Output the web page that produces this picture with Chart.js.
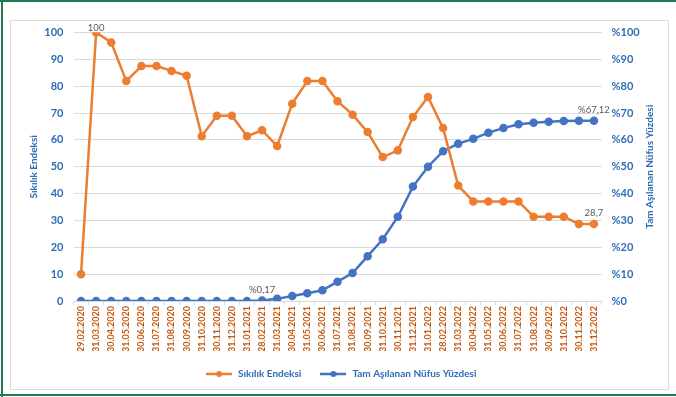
<!DOCTYPE html>
<html>
<head>
<meta charset="utf-8">
<script src="https://cdn.jsdelivr.net/npm/chart.js@4.4.1/dist/chart.umd.min.js"></script>
<style>
  body { margin: 0; background: #fff; }
  canvas { display: block; }
</style>
</head>
<body>
<canvas id="grafik" width="676" height="397"></canvas>
<script>
// ay sonu tarihleri
const tarihler = [
  "29.02.2020", "31.03.2020", "30.04.2020", "31.05.2020", "30.06.2020", "31.07.2020",
  "31.08.2020", "30.09.2020", "31.10.2020", "30.11.2020", "31.12.2020",
  "31.01.2021", "28.02.2021", "31.03.2021", "30.04.2021", "31.05.2021", "30.06.2021",
  "31.07.2021", "31.08.2021", "30.09.2021", "31.10.2021", "30.11.2021", "31.12.2021",
  "31.01.2022", "28.02.2022", "31.03.2022", "30.04.2022", "31.05.2022", "30.06.2022",
  "31.07.2022", "31.08.2022", "30.09.2022", "31.10.2022", "30.11.2022", "31.12.2022"
];

// sıkılık endeksi (0-100)
const sikilikEndeksi = [
  10, 100, 96.3, 81.9, 87.5, 87.5, 85.7, 83.9, 61.4, 69, 69,
  61.4, 63.6, 57.7, 73.5, 81.9, 81.9, 74.4, 69.4, 62.9, 53.6, 56.1, 68.5,
  76, 64.4, 43, 37.1, 37.1, 37.1, 37.1, 31.4, 31.4, 31.4, 28.7, 28.7
];

// tam aşılanan nüfus yüzdesi
const asilananYuzde = [
  0, 0, 0, 0, 0, 0, 0, 0, 0, 0, 0,
  0.02, 0.17, 0.8, 1.9, 2.9, 4.0, 7.2, 10.4, 16.7, 23, 31.4, 42.6,
  50, 55.8, 58.6, 60.4, 62.7, 64.4, 65.8, 66.4, 66.8, 67, 67.1, 67.12
];

const eksenTikleri = [0, 10, 20, 30, 40, 50, 60, 70, 80, 90, 100];

// hangi noktaların üstüne değer yazılacak: [seri, sıra, önek]
const degerEtiketleri = [
  [0, 1, ""],
  [1, 12, "%"],
  [1, 34, "%"],
  [0, 34, ""]
];

const turuncu = "#ed7d31";
const mavi = "#4472c4";
const yaziMavi = "#2e6db4";
const yaziTuruncu = "#c55a11";
const yaziFont = "Lato, 'Noto Sans', sans-serif";

// lejant için çizgi + nokta işareti
const lejantIsareti = (renk) => {
  const c = document.createElement("canvas");
  c.width = 26;
  c.height = 8;
  const x = c.getContext("2d");
  x.strokeStyle = renk;
  x.lineWidth = 2.5;
  x.beginPath();
  x.moveTo(0, 4);
  x.lineTo(26, 4);
  x.stroke();
  x.fillStyle = renk;
  x.beginPath();
  x.arc(13, 4, 3, 0, Math.PI * 2);
  x.fill();
  return c;
};

const sayiYaz = (v) => String(v).replace(".", ",");

// arka plan ve çerçeveler
const cerceve = {
  id: "cerceve",
  beforeDraw(chart) {
    const ctx = chart.ctx;
    ctx.save();
    ctx.fillStyle = "#fff";
    ctx.fillRect(0, 0, chart.width, chart.height);
    ctx.strokeStyle = "#dcdcdc";
    ctx.lineWidth = 1;
    ctx.strokeRect(10.5, 20.5, 658, 369);
    ctx.strokeStyle = "#1f7a4d";
    ctx.lineWidth = 2;
    ctx.beginPath();
    ctx.moveTo(0, 1);
    ctx.lineTo(chart.width, 1);
    ctx.moveTo(2, 0);
    ctx.lineTo(2, chart.height);
    ctx.moveTo(0, 395);
    ctx.lineTo(chart.width, 395);
    ctx.stroke();
    ctx.restore();
  }
};

// nokta değer etiketleri
const degerYazisi = {
  id: "degerYazisi",
  afterDatasetsDraw(chart) {
    const ctx = chart.ctx;
    ctx.save();
    ctx.font = "9.5px " + yaziFont;
    ctx.fillStyle = "#595959";
    ctx.textAlign = "center";
    ctx.textBaseline = "bottom";
    degerEtiketleri.forEach(([seri, sira, onek]) => {
      const nokta = chart.getDatasetMeta(seri).data[sira];
      const deger = chart.data.datasets[seri].data[sira];
      const ust = sira === 1 && seri === 0 ? 0 : 6;
      ctx.fillText(onek + sayiYaz(deger), nokta.x, nokta.y - ust);
    });
    ctx.restore();
  }
};

// sağ eksen başlığı (aşağıdan yukarı okunur)
const sagBaslik = {
  id: "sagBaslik",
  afterDraw(chart) {
    const ctx = chart.ctx;
    const alan = chart.chartArea;
    ctx.save();
    ctx.translate(650, (alan.top + alan.bottom) / 2);
    ctx.rotate(-Math.PI / 2);
    ctx.font = "bold 10px " + yaziFont;
    ctx.fillStyle = yaziMavi;
    ctx.textAlign = "center";
    ctx.textBaseline = "middle";
    ctx.fillText("Tam Aşılanan Nüfus Yüzdesi", 0, 0);
    ctx.restore();
  }
};

const grafik = new Chart(document.getElementById("grafik"), {
  type: "line",
  data: {
    labels: tarihler,
    datasets: [
      {
        label: "Sıkılık Endeksi",
        data: sikilikEndeksi,
        borderColor: turuncu,
        backgroundColor: turuncu,
        borderWidth: 2.5,
        pointRadius: 3,
        pointStyle: "circle",
        yAxisID: "y"
      },
      {
        label: "Tam Aşılanan Nüfus Yüzdesi",
        data: asilananYuzde,
        borderColor: mavi,
        backgroundColor: mavi,
        borderWidth: 2.5,
        pointRadius: 3,
        yAxisID: "y1"
      }
    ]
  },
  options: {
    responsive: false,
    animation: false,
    layout: { padding: { left: 20, right: 14.5, top: 32.5, bottom: 8 } },
    plugins: {
      tooltip: { enabled: false },
      legend: {
        position: "bottom",
        labels: {
          usePointStyle: true,
          pointStyleWidth: 28,
          padding: 18,
          color: yaziMavi,
          font: { family: yaziFont, size: 10, weight: "bold" },
          generateLabels(chart) {
            return chart.data.datasets.map((ds, i) => ({
              text: ds.label,
              pointStyle: lejantIsareti(ds.borderColor),
              fillStyle: ds.borderColor,
              strokeStyle: ds.borderColor,
              lineWidth: 0,
              fontColor: yaziMavi,
              datasetIndex: i
            }));
          }
        }
      }
    },
    scales: {
      x: {
        offset: true,
        grid: {
          offset: true,
          drawOnChartArea: false,
          drawTicks: true,
          tickLength: 4,
          color: "#d9d9d9"
        },
        border: { color: "#d9d9d9" },
        ticks: {
          autoSkip: false,
          minRotation: 90,
          maxRotation: 90,
          padding: 1,
          color: yaziTuruncu,
          font: { family: yaziFont, size: 9, weight: "bold" }
        },
        afterFit(s) { s.height = 50; }
      },
      y: {
        position: "left",
        min: 0,
        max: 100,
        afterBuildTicks(s) { s.ticks = eksenTikleri.map((v) => ({ value: v })); },
        grid: { color: "#d9d9d9", drawTicks: false },
        border: { display: false },
        ticks: {
          padding: 10,
          color: yaziMavi,
          font: { family: yaziFont, size: 11, weight: "bold" }
        },
        title: {
          display: true,
          text: "Sıkılık Endeksi",
          color: yaziMavi,
          font: { family: yaziFont, size: 10, weight: "bold" },
          padding: { top: 8, bottom: 0 }
        },
        afterFit(s) { s.width = 53.5; }
      },
      y1: {
        position: "right",
        min: 0,
        max: 100,
        afterBuildTicks(s) { s.ticks = eksenTikleri.map((v) => ({ value: v })); },
        grid: { drawOnChartArea: false, drawTicks: false },
        border: { display: false },
        ticks: {
          padding: 10,
          color: yaziMavi,
          font: { family: yaziFont, size: 11, weight: "bold" },
          callback: (v) => "%" + v
        },
        afterFit(s) { s.width = 60; }
      }
    }
  },
  plugins: [cerceve, degerYazisi, sagBaslik]
});
</script>
</body>
</html>
